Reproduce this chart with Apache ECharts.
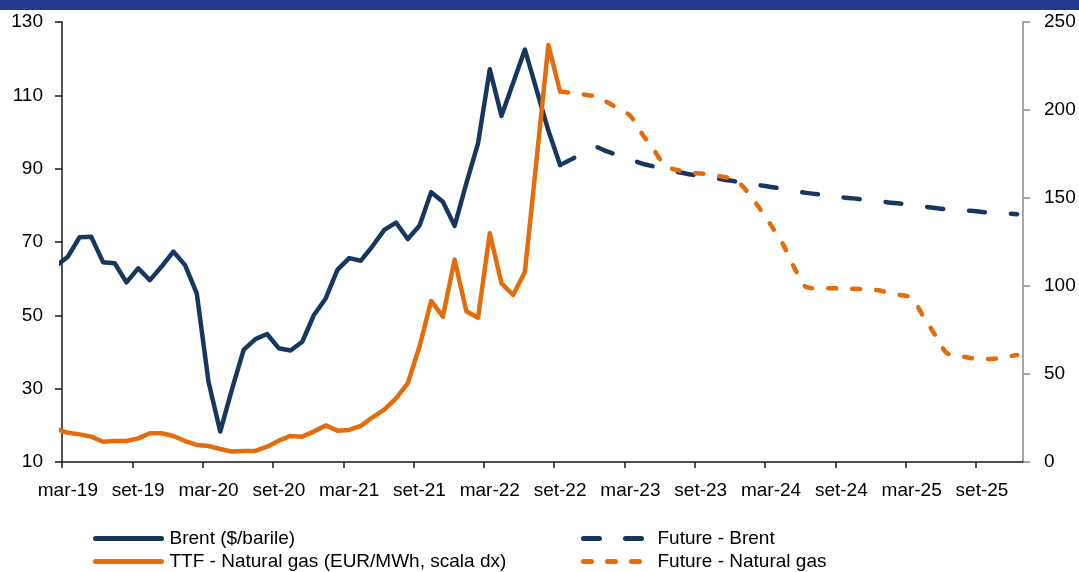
<!DOCTYPE html>
<html>
<head>
<meta charset="utf-8">
<script src="https://cdn.jsdelivr.net/npm/echarts@6/dist/echarts.min.js"></script>
<style>
  html, body { margin: 0; padding: 0; background: #ffffff; }
  #chart { width: 1079px; height: 572px; }
</style>
</head>
<body>
<div id="chart"></div>
<script>
// ---- Data (monthly, Italian month abbreviations) ----
const actualMonths = [
  'feb-19','mar-19','apr-19','mag-19','giu-19','lug-19','ago-19','set-19','ott-19','nov-19','dic-19',
  'gen-20','feb-20','mar-20','apr-20','mag-20','giu-20','lug-20','ago-20','set-20','ott-20','nov-20','dic-20',
  'gen-21','feb-21','mar-21','apr-21','mag-21','giu-21','lug-21','ago-21','set-21','ott-21','nov-21','dic-21',
  'gen-22','feb-22','mar-22','apr-22','mag-22','giu-22','lug-22','ago-22','set-22'
];
const brent = [
  63.5, 66.0, 71.3, 71.4, 64.5, 64.2, 59.0, 62.8, 59.6, 63.3, 67.4,
  63.7, 56.0, 31.9, 18.3, 29.8, 40.6, 43.5, 44.9, 41.0, 40.4, 42.8, 50.1,
  54.6, 62.4, 65.6, 64.9, 68.9, 73.3, 75.3, 70.8, 74.4, 83.6, 81.0, 74.4,
  86.0, 96.9, 117.1, 104.4, 113.4, 122.5, 111.4, 100.4, 91.0
];
const ttf = [
  18.8, 16.6, 15.7, 14.4, 11.5, 11.9, 11.9, 13.4, 16.3, 16.3, 14.8,
  11.9, 9.7, 9.1, 7.4, 5.9, 6.3, 6.3, 8.7, 12.1, 14.8, 14.4, 17.4,
  20.8, 17.8, 18.2, 20.5, 25.4, 29.7, 36.2, 44.7, 65.5, 91.5, 82.6, 115.0,
  85.7, 82.0, 130.0, 101.5, 94.9, 108.1, 172.0, 236.9, 210.5
];
const futureMonths = [
  'set-22','ott-22','nov-22','dic-22',
  'gen-23','feb-23','mar-23','apr-23','mag-23','giu-23','lug-23','ago-23','set-23','ott-23','nov-23','dic-23',
  'gen-24','feb-24','mar-24','apr-24','mag-24','giu-24','lug-24','ago-24','set-24','ott-24','nov-24','dic-24',
  'gen-25','feb-25','mar-25','apr-25','mag-25','giu-25','lug-25','ago-25','set-25','ott-25','nov-25','dic-25'
];
const futureBrent = [
  91.0, 92.6, 94.4, 95.9,
  94.7, 93.6, 92.5, 91.4, 90.6, 89.8, 89.1, 88.5, 88.0, 87.5, 87.0, 86.5,
  86.0, 85.5, 85.0, 84.5, 83.9, 83.4, 83.0, 82.7, 82.2, 81.9, 81.5, 81.2,
  80.8, 80.5, 80.1, 79.7, 79.3, 78.9, 78.7, 78.5, 78.2, 77.9, 77.8, 77.6
];
const futureGas = [
  210.5, 209.7, 208.8, 207.7,
  204.5, 200.6, 196.6, 186.4, 177.3, 168.2, 165.9, 164.5, 163.9, 163.1, 161.9, 160.2,
  153.4, 144.3, 134.5, 123.9, 110.2, 99.4, 98.7, 98.7, 98.6, 98.4, 98.1, 97.7,
  96.3, 94.9, 93.2, 82.7, 72.2, 61.9, 60.5, 59.1, 58.4, 58.7, 59.7, 60.8
];
const tickLabels = ['mar-19','set-19','mar-20','set-20','mar-21','set-21','mar-22',
                    'set-22','mar-23','set-23','mar-24','set-24','mar-25','set-25'];

// ---- helpers: month label -> position on the time axis (months since start of mar-19, mid-month) ----
const MONTHS = ['gen','feb','mar','apr','mag','giu','lug','ago','set','ott','nov','dic'];
function monthPos(label) {
  const [m, y] = label.split('-');
  return (parseInt(y, 10) - 19) * 12 + MONTHS.indexOf(m) - 2 + 0.5;
}
function pairs(labels, values) { return labels.map((l, i) => [monthPos(l), values[i]]); }

const tickPositions = tickLabels.map(l => monthPos(l) - 0.5);
const labelPositions = tickLabels.map(l => monthPos(l));

const FONT = 'Liberation Sans, Arial, sans-serif';
const NAVY = '#17375E';
const ORANGE = '#E46C0A';

const legendCommon = {
  orient: 'vertical', top: 529, padding: 0, itemGap: 4,
  itemWidth: 66, itemHeight: 12,
  itemStyle: { opacity: 0 },
  lineStyle: { width: 5 },
  textStyle: { fontSize: 19, lineHeight: 19, color: '#000', fontFamily: FONT, padding: [0, 0, 0, 3] }
};

const chart = echarts.init(document.getElementById('chart'), null, { renderer: 'canvas' });
chart.setOption({
  animation: false,
  backgroundColor: '#ffffff',
  textStyle: { fontFamily: FONT },
  graphic: [{
    type: 'rect', left: 0, top: 0, z: 100,
    shape: { x: 0, y: 0, width: 1079, height: 10 },
    style: { fill: '#22398F' }
  }],
  grid: { left: 62, right: 56, top: 22, bottom: 110, containLabel: false },
  legend: [
    Object.assign({}, legendCommon, { left: 93, data: ['Brent ($/barile)', 'TTF - Natural gas (EUR/MWh, scala dx)'] }),
    Object.assign({}, legendCommon, { left: 581, data: ['Future - Brent', 'Future - Natural gas'] })
  ],
  xAxis: {
    type: 'value', min: 0, max: 82,
    splitLine: { show: false },
    axisLine: { show: true, lineStyle: { color: '#1a1a1a', width: 1.5 } },
    axisTick: { show: true, customValues: tickPositions, length: 6, lineStyle: { color: '#1a1a1a', width: 1.5 } },
    axisLabel: {
      customValues: labelPositions, margin: 19, fontSize: 19, color: '#000', fontFamily: FONT,
      formatter: v => tickLabels[Math.round((v - 0.5) / 6)]
    }
  },
  yAxis: [{
    type: 'value', min: 10, max: 130, interval: 20, position: 'left',
    splitLine: { show: false },
    axisLine: { show: true, lineStyle: { color: '#1a1a1a', width: 1.5 } },
    axisTick: { show: true, length: 7, lineStyle: { color: '#1a1a1a', width: 1.5 } },
    axisLabel: { margin: 19, fontSize: 19, color: '#000', fontFamily: FONT }
  }, {
    type: 'value', min: 0, max: 250, interval: 50, position: 'right',
    splitLine: { show: false },
    axisLine: { show: true, lineStyle: { color: '#8a8a8a', width: 1.5 } },
    axisTick: { show: true, length: 7, lineStyle: { color: '#8a8a8a', width: 1.5 } },
    axisLabel: { margin: 21, fontSize: 19, color: '#000', fontFamily: FONT }
  }],
  series: [{
    name: 'Brent ($/barile)', type: 'line', yAxisIndex: 0,
    data: pairs(actualMonths, brent), symbol: 'none', clip: true,
    lineStyle: { color: NAVY, width: 4.5, cap: 'round', join: 'round' },
    itemStyle: { color: NAVY }
  }, {
    name: 'Future - Brent', type: 'line', yAxisIndex: 0,
    data: pairs(futureMonths, futureBrent), symbol: 'none', smooth: 0.3, clip: true,
    lineStyle: { color: NAVY, width: 4.5, type: [16, 26], cap: 'round', join: 'round' },
    itemStyle: { color: NAVY }
  }, {
    name: 'TTF - Natural gas (EUR/MWh, scala dx)', type: 'line', yAxisIndex: 1,
    data: pairs(actualMonths, ttf), symbol: 'none', clip: true,
    lineStyle: { color: ORANGE, width: 4.5, cap: 'round', join: 'round' },
    itemStyle: { color: ORANGE }
  }, {
    name: 'Future - Natural gas', type: 'line', yAxisIndex: 1,
    data: pairs(futureMonths, futureGas), symbol: 'none', smooth: 0.3, clip: true,
    lineStyle: { color: ORANGE, width: 4.5, type: [8, 16], cap: 'round', join: 'round' },
    itemStyle: { color: ORANGE }
  }]
});
</script>
</body>
</html>
